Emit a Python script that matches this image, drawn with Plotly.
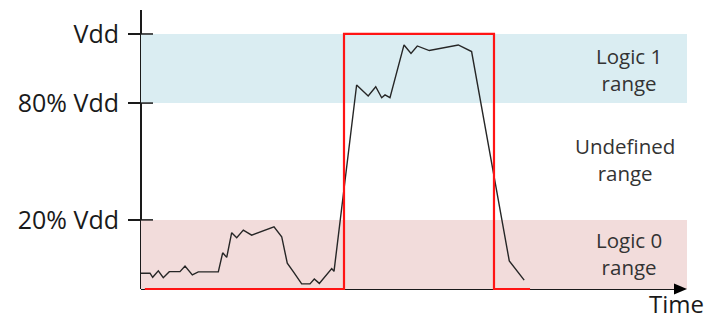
import plotly.graph_objects as go

# ---- data (time in arbitrary units 0..100, level as fraction of the drawn Vdd scale) ----
signal_t = [0.0, 1.65, 2.14, 3.17, 4.08, 5.18, 7.14, 8.06, 9.40, 10.49, 14.16, 14.96, 15.70,
            16.61, 17.53, 18.74, 20.27, 24.36, 25.77, 26.79, 27.89, 29.43, 30.95, 31.74,
            32.66, 34.93, 35.35, 39.49, 41.61, 42.99, 44.08, 44.69, 45.60, 48.17, 49.45,
            50.60, 52.80, 58.11, 60.55, 67.45, 70.18]
signal_v = [0.062, 0.062, 0.046, 0.071, 0.044, 0.068, 0.068, 0.090, 0.055, 0.067, 0.067, 0.142,
            0.124, 0.221, 0.201, 0.231, 0.211, 0.244, 0.205, 0.101, 0.068, 0.020, 0.020, 0.039,
            0.022, 0.080, 0.069, 0.800, 0.757, 0.793, 0.750, 0.761, 0.750, 0.957, 0.924,
            0.953, 0.935, 0.957, 0.931, 0.110, 0.035]

digital_t = [0.7, 37.18, 37.18, 64.65, 64.65, 71.25]
digital_v = [0, 0, 1, 1, 0, 0]

tick_vals = [1.0, 0.729, 0.271]
tick_text = ["Vdd", "80% Vdd", "20% Vdd"]

logic1_band = [0.729, 1.0]
logic0_band = [0.0, 0.271]

region_labels = ["Logic 1<br>range", "Undefined<br>range", "Logic 0<br>range"]
region_label_v = [0.862, 0.506, 0.139]
region_label_t = [89.4, 88.6, 89.4]

X_RANGE = [0, 100]
Y_RANGE = [-5 / 255, 1.094]


def py(v):
    return (v - Y_RANGE[0]) / (Y_RANGE[1] - Y_RANGE[0])


def px(t):
    return (t - X_RANGE[0]) / (X_RANGE[1] - X_RANGE[0])


fig = go.Figure()

fig.add_trace(go.Scatter(x=signal_t, y=signal_v, mode="lines",
                         line=dict(color="#262626", width=1.4), hoverinfo="skip"))
fig.add_trace(go.Scatter(x=digital_t, y=digital_v, mode="lines",
                         line=dict(color="#ff1414", width=2.2), hoverinfo="skip"))

shapes = []
# bands
shapes.append(dict(type="rect", xref="x", yref="y", x0=0, x1=100, y0=logic1_band[0], y1=logic1_band[1],
                   fillcolor="#daedf2", line=dict(width=0), layer="below"))
shapes.append(dict(type="rect", xref="x", yref="y", x0=0, x1=100, y0=logic0_band[0], y1=logic0_band[1],
                   fillcolor="#f2dcdb", line=dict(width=0), layer="below"))
# axes
shapes.append(dict(type="line", xref="paper", yref="paper", x0=0, x1=0, y0=py(0), y1=1,
                   line=dict(color="#1a1a1a", width=2), layer="below"))
shapes.append(dict(type="line", xref="paper", yref="paper", x0=0, x1=px(98.5), y0=py(0), y1=py(0),
                   line=dict(color="#1a1a1a", width=2), layer="below"))
# arrow head on time axis
ah_len = 13 / 546
ah_h = 5.5 / 284
tip = px(100)
y0p = py(0)
shapes.append(dict(type="path", xref="paper", yref="paper",
                   path=f"M {tip} {y0p} L {tip - ah_len} {y0p + ah_h} L {tip - ah_len} {y0p - ah_h} Z",
                   fillcolor="#000000", line=dict(width=0)))
# inner halves of tick marks
for v in tick_vals:
    shapes.append(dict(type="line", xref="paper", yref="paper", x0=0, x1=12 / 546, y0=py(v), y1=py(v),
                       line=dict(color="#1a1a1a", width=1.5)))

annotations = []
for txt, t, v in zip(region_labels, region_label_t, region_label_v):
    annotations.append(dict(x=t, y=v, xref="x", yref="y", text=txt, showarrow=False,
                            xanchor="center", yanchor="middle",
                            font=dict(family="Open Sans", size=20.5, color="#333333")))
annotations.append(dict(x=(676 - 141) / 546, y=(294 - 303) / 284, xref="paper", yref="paper", text="Time",
                        showarrow=False, xanchor="center", yanchor="middle",
                        font=dict(family="Open Sans", size=24, color="#1a1a1a")))

fig.update_layout(
    width=709, height=320,
    margin=dict(l=141, r=22, t=10, b=26),
    paper_bgcolor="white", plot_bgcolor="white",
    showlegend=False,
    shapes=shapes, annotations=annotations,
    xaxis=dict(range=X_RANGE, showgrid=False, zeroline=False, showline=False,
               showticklabels=False, ticks=""),
    yaxis=dict(range=Y_RANGE, showgrid=False, zeroline=False, showline=False,
               tickmode="array", tickvals=tick_vals, ticktext=tick_text,
               ticks="outside", ticklen=12, tickwidth=1.5, tickcolor="#1a1a1a",
               ticklabelstandoff=4,
               tickfont=dict(family="Open Sans", size=25, color="#1a1a1a")),
)

fig.write_html("out.html", config={"displayModeBar": False},
               post_script="document.body.style.margin='0';")
